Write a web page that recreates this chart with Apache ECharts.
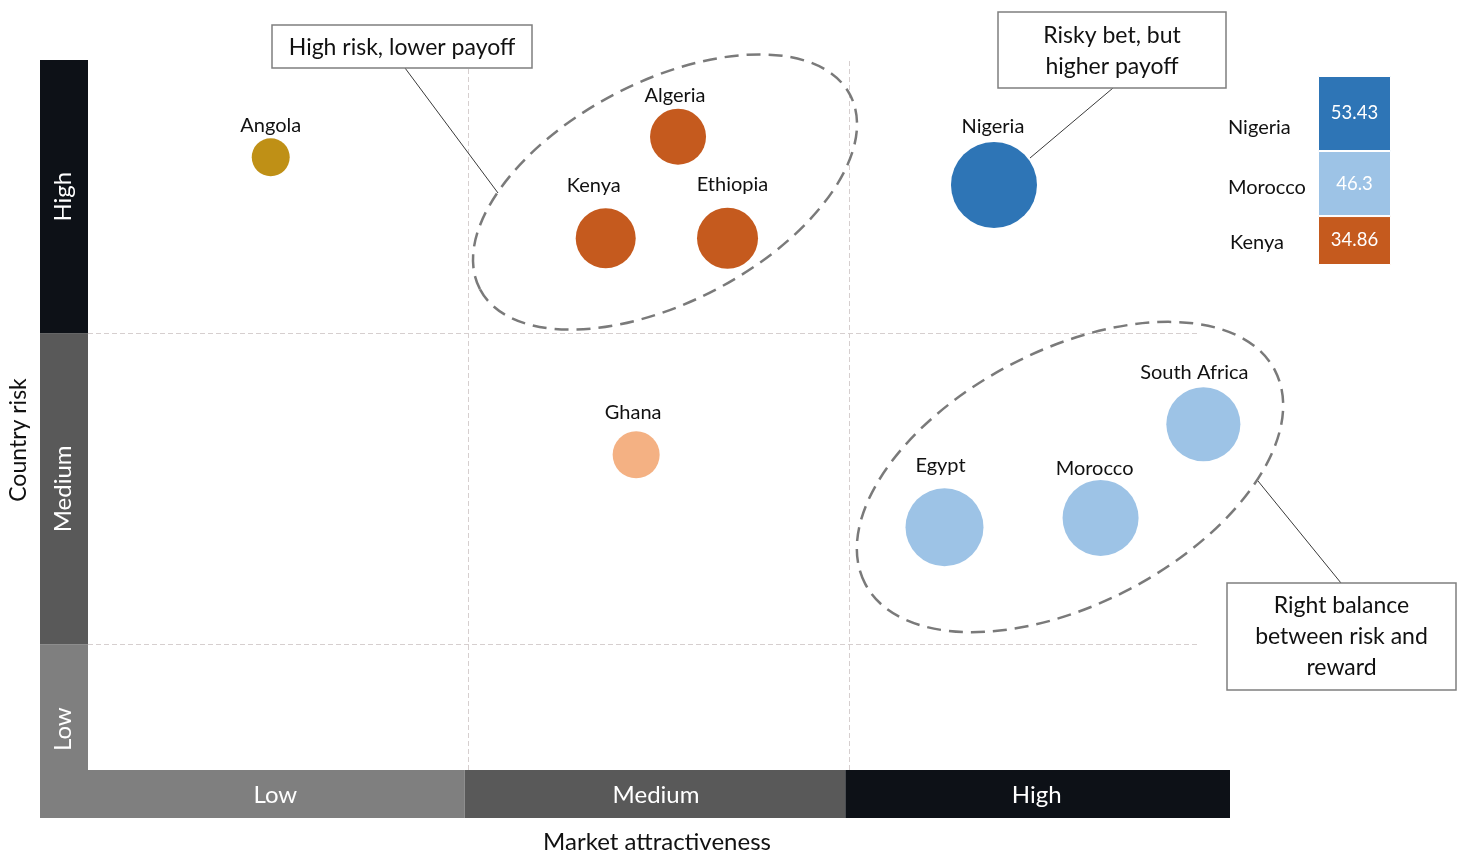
<!DOCTYPE html>
<html><head><meta charset="utf-8">
<script src="https://cdn.jsdelivr.net/npm/echarts@6/dist/echarts.min.js"></script>
<style>html,body{margin:0;padding:0;background:#fff}#c{width:1460px;height:855px}</style>
</head><body><div id="c"></div>
<script>
// ---- data ----
const countries = ['Angola','Algeria','Kenya','Ethiopia','Nigeria','Ghana','South Africa','Egypt','Morocco'];
const marketAttractiveness = [0.48, 1.55, 1.36, 1.68, 2.38, 1.44, 2.93, 2.25, 2.66];
const countryRisk = [86.3, 89.2, 74.9, 74.9, 82.4, 44.4, 48.7, 34.2, 35.5];
const bubbleSize = [19.1, 32.0, 34.86, 35.6, 53.43, 25.6, 44.9, 47.7, 46.3];
const bubbleGroup = ['gold','orange','orange','orange','blue','peach','light','light','light'];
const xBandLabels = ['Low','Medium','High'];
const xBandEdges = [0, 1, 2, 3];
const yBandLabels = ['Low','Medium','High'];
const yBandEdges = [0, 17.7, 61.5, 100];
const legendNames = ['Nigeria','Morocco','Kenya'];
const legendValues = [53.43, 46.3, 34.86];
const legendGroup = ['blue','light','orange'];

// ---- styles ----
const groupColor = {gold:'#BF9016', orange:'#C55A1E', blue:'#2E75B6', peach:'#F4B183', light:'#9DC3E6'};
const bandColor = {Low:'#7F7F7F', Medium:'#595959', High:'#0D1117'};
const labelGap = [3, 3, 13, 13, 5, 9, 5, 13, 1];
const labelDx = [0, -3, -12, 5, -1, -3, -9, -4, -6];
const FONT = 'Lato, "Open Sans", sans-serif';
const INK = '#111';

const chart = echarts.init(document.getElementById('c'), null, {renderer:'canvas'});
const legendTotal = legendValues.reduce((a,b)=>a+b,0);

const option = {
  animation:false,
  backgroundColor:'#fff',
  textStyle:{fontFamily:FONT},
  grid:[
    {left:88, right:230, top:60, bottom:85},
    {left:1318, top:76, width:73, height:189}
  ],
  xAxis:[
    {type:'value', min:0, max:3, interval:1, gridIndex:0, show:false},
    {type:'category', data:['size'], gridIndex:1, show:false}
  ],
  yAxis:[
    {type:'value', min:0, max:100, gridIndex:0, show:false},
    {type:'value', min:0, max:legendTotal, inverse:true, gridIndex:1, show:false}
  ],
  series:[
    {
      type:'scatter', xAxisIndex:0, yAxisIndex:0, z:5,
      data: countries.map((c,i)=>({
        name:c,
        value:[marketAttractiveness[i], countryRisk[i], bubbleSize[i]],
        itemStyle:{color:groupColor[bubbleGroup[i]], opacity:1},
        label:{distance:labelGap[i], offset:[labelDx[i],0]}
      })),
      symbolSize: v => 1.4*v[2] + 11.2,
      label:{show:true, position:'top', formatter:'{b}', color:INK, fontSize:20, fontFamily:FONT},
      markLine:{
        silent:true, symbol:'none', z:1,
        label:{show:false},
        lineStyle:{type:[5,3], color:'#d6cfcf', width:1},
        data:[
          [{coord:[xBandEdges[1],0]},{coord:[xBandEdges[1],100]}],
          [{coord:[xBandEdges[2],0]},{coord:[xBandEdges[2],100]}],
          [{coord:[0,yBandEdges[1]]},{coord:[2.92,yBandEdges[1]]}],
          [{coord:[0,yBandEdges[2]]},{coord:[2.92,yBandEdges[2]]}]
        ]
      }
    },
    ...legendNames.map((n,i)=>({
      type:'bar', name:n, stack:'legend', xAxisIndex:1, yAxisIndex:1,
      barWidth:'100%', data:[legendValues[i]],
      itemStyle:{color:groupColor[legendGroup[i]], borderColor:'#fff', borderWidth:1},
      label:{show:true, position:'inside', color:'#fff', fontSize:18.5, fontFamily:FONT, formatter:String(legendValues[i])}
    }))
  ]
};
chart.setOption(option);

// ---- graphics (bands, titles, annotations) ----
const g = [];
const px = v => chart.convertToPixel({gridIndex:0}, [v,0])[0];
const py = v => chart.convertToPixel({gridIndex:0}, [0,v])[1];
const bottomY = py(0), leftX = px(0);

// left risk bands
yBandLabels.forEach((lab,i)=>{
  const yTop = py(yBandEdges[i+1]);
  const yBot = i===0 ? bottomY+48 : py(yBandEdges[i]);
  g.push({type:'rect', shape:{x:leftX-48, y:yTop, width:48, height:yBot-yTop}, style:{fill:bandColor[lab]}, z:2});
  const cy = (yTop + py(yBandEdges[i]))/2 + (i===0 ? 22 : 0);
  g.push({type:'text', x:leftX-25, y:cy, rotation:Math.PI/2, z:3,
    style:{text:lab, fill:'#fff', font:'24px '+FONT, align:'center', verticalAlign:'middle'}});
});
// bottom attractiveness bands
xBandLabels.forEach((lab,i)=>{
  const xL = i===0 ? leftX-48 : px(xBandEdges[i])-4;
  const xR = i===2 ? px(xBandEdges[3]) : px(xBandEdges[i+1])-4;
  g.push({type:'rect', shape:{x:xL, y:bottomY, width:xR-xL, height:48}, style:{fill:bandColor[lab]}, z:2});
  const cx = (px(xBandEdges[i]) + px(xBandEdges[i+1]))/2 - 3;
  g.push({type:'text', x:cx, y:bottomY+25, z:3,
    style:{text:lab, fill:'#fff', font:'24px '+FONT, align:'center', verticalAlign:'middle'}});
});
// axis titles
g.push({type:'text', x:19, y:440, rotation:Math.PI/2, style:{text:'Country risk', fill:INK, font:'23px '+FONT, align:'center', verticalAlign:'middle'}});
g.push({type:'text', x:657, y:842, style:{text:'Market attractiveness', fill:INK, font:'24px '+FONT, align:'center', verticalAlign:'middle'}});

// ellipses
const dash = {fill:'none', stroke:'#7a7a7a', lineWidth:2.5, lineDash:[14,8]};
g.push({type:'ellipse', x:665, y:192, rotation:27.7*Math.PI/180, shape:{cx:0, cy:0, rx:209, ry:110}, style:dash, z:4});
g.push({type:'ellipse', x:1070, y:477, rotation:27.5*Math.PI/180, shape:{cx:0, cy:0, rx:231, ry:127}, style:dash, z:4});

// leader lines
const lead = {stroke:'#3a3a3a', lineWidth:1};
g.push({type:'line', shape:{x1:405, y1:68, x2:498, y2:193}, style:lead, z:4});
g.push({type:'line', shape:{x1:1113, y1:88, x2:1030, y2:158}, style:lead, z:4});
g.push({type:'line', shape:{x1:1341, y1:583, x2:1258, y2:481}, style:lead, z:4});

// annotation boxes
function box(x,y,w,h,text,dy){
  g.push({type:'rect', shape:{x:x, y:y, width:w, height:h}, style:{fill:'#fff', stroke:'#7f7f7f', lineWidth:1.5}, z:6});
  g.push({type:'text', x:x+w/2, y:y+h/2+dy, z:7, style:{text:text, fill:INK, font:'23px '+FONT, align:'center', verticalAlign:'middle', lineHeight:31}});
}
box(272,25,260,43,'High risk, lower payoff',1);
box(998,12,228,76,'Risky bet, but\nhigher payoff',1);
box(1227,583,229,107,'Right balance\nbetween risk and\nreward',0);

// size legend names
const nameOffsets = [14, 4, 2];
let cum = 0;
legendNames.forEach((n,i)=>{
  const yc = chart.convertToPixel({gridIndex:1}, [0, cum + legendValues[i]/2])[1] + nameOffsets[i];
  cum += legendValues[i];
  g.push({type:'text', x:1228 + (i===2 ? 2 : 0), y:yc, style:{text:n, fill:INK, font:'20px '+FONT, align:'left', verticalAlign:'middle'}});
});

chart.setOption({graphic:g});
</script>
</body></html>
